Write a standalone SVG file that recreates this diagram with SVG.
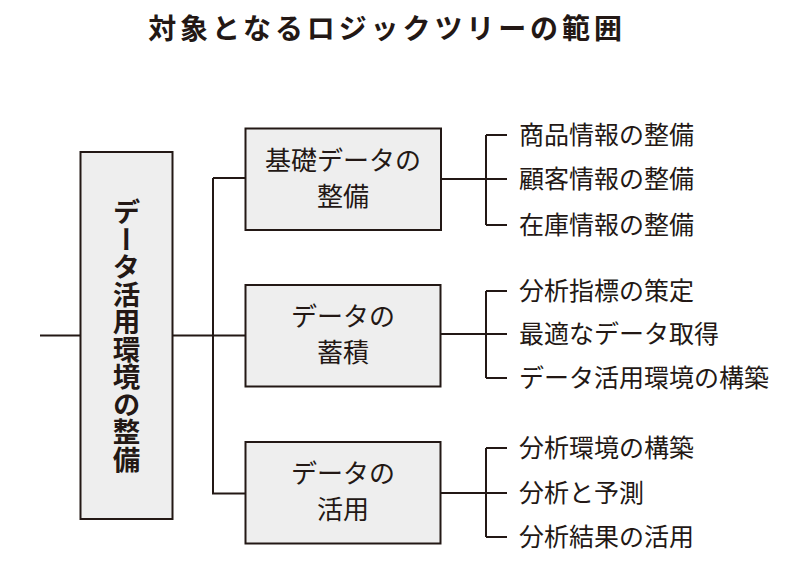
<svg xmlns="http://www.w3.org/2000/svg" width="800" height="566" viewBox="0 0 800 566">
<style>
.box{fill:#eeeeee;stroke:#231815;stroke-width:2}
.ln{fill:none;stroke:#231815;stroke-width:2}
text{font-family:"Noto Sans CJK JP","Noto Sans CJK SC",sans-serif;fill:#231815}
.title{font-size:28px;font-weight:bold;text-anchor:middle;letter-spacing:3.9px}
.bt{font-size:26px;text-anchor:middle}
.it{font-size:25px}
.main{font-size:27.5px;font-weight:bold;writing-mode:vertical-rl;text-anchor:middle}
</style>
<rect width="800" height="566" fill="#ffffff"/>
<text class="title" x="387" y="39">対象となるロジックツリーの範囲</text>
<g id="connectors">
<path class="ln" d="M40,335.5H80"/>
<path class="ln" d="M173,335.5H246M213,178V493.5H246M213,178H246"/>
<path class="ln" d="M441,179H486M486,135V225M486,135H507M486,179H507M486,225H507"/>
<path class="ln" d="M441,334H486M486,291V378M486,291H507M486,334H507M486,378H507"/>
<path class="ln" d="M441,493H486M486,448V537M486,448H507M486,493H507M486,537H507"/>
</g>
<g id="main">
<rect class="box" x="80.5" y="152" width="92" height="367"/>
<text class="main" x="126.5" y="335.5">データ活用環境の整備</text>
</g>
<g id="n1">
<rect class="box" x="245.5" y="128.5" width="195.5" height="101.5"/>
<text class="bt" x="343" y="170">基礎データの</text>
<text class="bt" x="343" y="206">整備</text>
</g>
<g id="n2">
<rect class="box" x="245.5" y="285" width="195" height="101.5"/>
<text class="bt" x="343" y="326">データの</text>
<text class="bt" x="343" y="362">蓄積</text>
</g>
<g id="n3">
<rect class="box" x="245.5" y="442" width="195" height="101.5"/>
<text class="bt" x="343" y="483">データの</text>
<text class="bt" x="343" y="519">活用</text>
</g>
<g id="items1">
<text class="it" x="519" y="144">商品情報の整備</text>
<text class="it" x="519" y="188">顧客情報の整備</text>
<text class="it" x="519" y="234">在庫情報の整備</text>
</g>
<g id="items2">
<text class="it" x="519" y="300">分析指標の策定</text>
<text class="it" x="519" y="343">最適なデータ取得</text>
<text class="it" x="519" y="387">データ活用環境の構築</text>
</g>
<g id="items3">
<text class="it" x="519" y="457">分析環境の構築</text>
<text class="it" x="519" y="502">分析と予測</text>
<text class="it" x="519" y="546">分析結果の活用</text>
</g>
</svg>
